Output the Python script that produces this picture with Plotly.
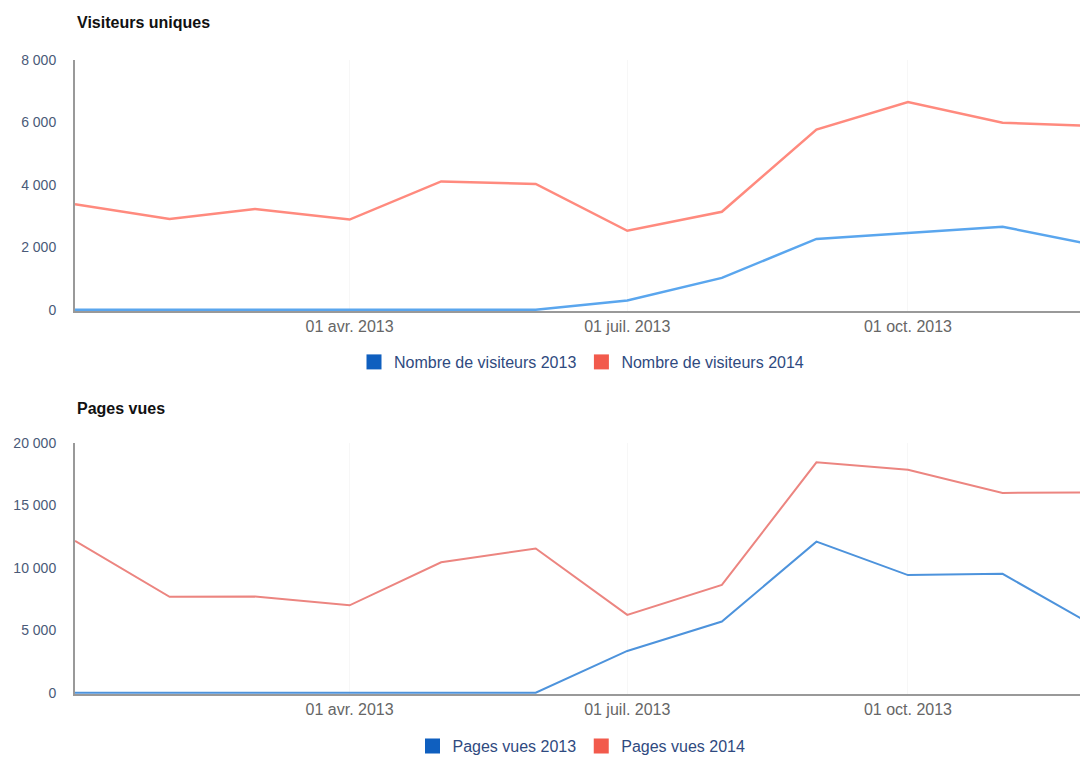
import plotly.graph_objects as go

# mois (1er de chaque mois, 2013)
mois = ["2013-01-01", "2013-02-01", "2013-03-01", "2013-04-01", "2013-05-01", "2013-06-01",
        "2013-07-01", "2013-08-01", "2013-09-01", "2013-10-01", "2013-11-01", "2013-12-01"]

# Visiteurs uniques
visiteurs_2013 = [0, 0, 0, 0, 0, 0, 300, 1020, 2270, 2460, 2660, 2070]
visiteurs_2014 = [3380, 2910, 3230, 2890, 4110, 4030, 2530, 3140, 5770, 6650, 5990, 5890]

# Pages vues
pages_2013 = [0, 0, 0, 0, 0, 0, 3350, 5700, 12100, 9420, 9520, 5360]
pages_2014 = [12160, 7680, 7700, 7000, 10450, 11550, 6240, 8640, 18450, 17850, 16000, 16050]

# graduations
x_ticks = ["2013-04-01", "2013-07-01", "2013-10-01"]
x_labels = ["01 avr. 2013", "01 juil. 2013", "01 oct. 2013"]
y1_ticks = [0, 2000, 4000, 6000, 8000]
y1_labels = ["0", "2 000", "4 000", "6 000", "8 000"]
y2_ticks = [0, 5000, 10000, 15000, 20000]
y2_labels = ["0", "5 000", "10 000", "15 000", "20 000"]

BLEU = "#5aa6ee"
ROUGE = "#ff8a7e"
BLEU_2 = "#4d93dc"
ROUGE_2 = "#ec8580"
BLEU_LEG = "#0f5fbf"
ROUGE_LEG = "#f25a4c"

# la page ajoute 8 px de marge autour de la figure
W, H = 1080, 749

fig = go.Figure()

# courbes
fig.add_trace(go.Scatter(x=mois, y=visiteurs_2014, mode="lines", line=dict(color=ROUGE, width=2.5),
                         xaxis="x", yaxis="y", showlegend=False))
fig.add_trace(go.Scatter(x=mois, y=visiteurs_2013, mode="lines", line=dict(color=BLEU, width=2.5),
                         xaxis="x", yaxis="y", showlegend=False))
fig.add_trace(go.Scatter(x=mois, y=pages_2014, mode="lines", line=dict(color=ROUGE_2, width=2),
                         xaxis="x2", yaxis="y2", showlegend=False))
fig.add_trace(go.Scatter(x=mois, y=pages_2013, mode="lines", line=dict(color=BLEU_2, width=2),
                         xaxis="x2", yaxis="y2", showlegend=False))

# entrées de légende (carrés)
for nom, coul, leg, ax in [("Nombre de visiteurs 2013", BLEU_LEG, "legend", "y"),
                           ("Nombre de visiteurs 2014", ROUGE_LEG, "legend", "y"),
                           ("Pages vues 2013", BLEU_LEG, "legend2", "y2"),
                           ("Pages vues 2014", ROUGE_LEG, "legend2", "y2")]:
    fig.add_trace(go.Scatter(x=[None], y=[None], mode="markers", name=nom,
                             marker=dict(symbol="square", size=15, color=coul),
                             xaxis="x" if ax == "y" else "x2", yaxis=ax, legend=leg))

x_range = ["2013-01-01", "2013-11-29"]
axe_x = dict(range=x_range, tickvals=x_ticks, ticktext=x_labels, showgrid=True,
             gridcolor="#f7f7f7", showline=True, linecolor="#999999", linewidth=2,
             layer="below traces", zeroline=False, ticks="",
             tickfont=dict(size=16, color="#666666"))
axe_y = dict(showgrid=False, zeroline=False, showline=True, linecolor="#999999",
             linewidth=2, ticks="", ticklabelstandoff=14,
             tickfont=dict(size=14, color="#4a5a78"))

fig.update_layout(
    width=W, height=H,
    margin=dict(l=67, r=0, t=0, b=0, autoexpand=False),
    paper_bgcolor="white", plot_bgcolor="white",
    font=dict(family="Liberation Sans, Arial, sans-serif", color="#444444"),
    xaxis=dict(axe_x, domain=[0, 1], anchor="y"),
    yaxis=dict(axe_y, domain=[1 - 303 / H, 1 - 52 / H], range=[-40, 8000],
               tickvals=y1_ticks, ticktext=y1_labels, anchor="x"),
    xaxis2=dict(axe_x, domain=[0, 1], anchor="y2"),
    yaxis2=dict(axe_y, domain=[1 - 686 / H, 1 - 435 / H], range=[-100, 20000],
                tickvals=y2_ticks, ticktext=y2_labels, anchor="x2"),
    legend=dict(orientation="h", x=0.5, xanchor="center", y=1 - 354 / H, yanchor="middle",
                font=dict(size=16, color="#2f4a80"), itemwidth=30, bgcolor="rgba(0,0,0,0)"),
    legend2=dict(orientation="h", x=0.5, xanchor="center", y=1 - 738 / H, yanchor="middle",
                 font=dict(size=16, color="#2f4a80"), itemwidth=30, bgcolor="rgba(0,0,0,0)"),
    annotations=[
        dict(text="<b>Visiteurs uniques</b>", xref="paper", yref="paper", x=0, y=1 - 14 / H,
             xanchor="left", yanchor="middle", showarrow=False,
             font=dict(size=16, color="#111111")),
        dict(text="<b>Pages vues</b>", xref="paper", yref="paper", x=0, y=1 - 400 / H,
             xanchor="left", yanchor="middle", showarrow=False,
             font=dict(size=16, color="#111111")),
    ],
)

fig.write_html("out.html")
